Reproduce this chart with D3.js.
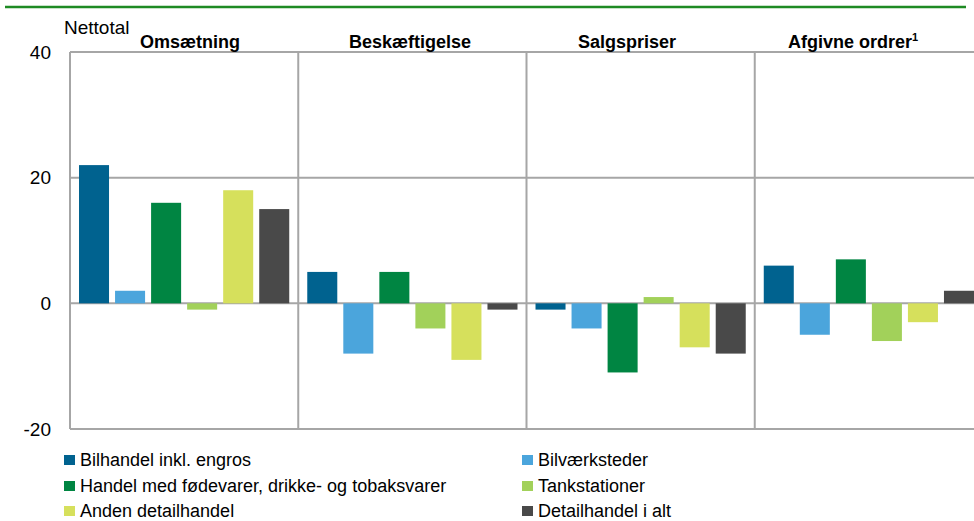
<!DOCTYPE html>
<html>
<head>
<meta charset="utf-8">
<script src="https://cdn.jsdelivr.net/npm/d3@7"></script>
<style>
  body { margin: 0; background: #fff; }
  svg text { font-family: "Liberation Sans Narrow", "Liberation Sans", Arial, sans-serif; fill: #000; }
</style>
</head>
<body>
<script>
// data (nettotal)
const panels = ["Omsætning", "Beskæftigelse", "Salgspriser", "Afgivne ordrer"]
const series = ["Bilhandel inkl. engros", "Bilværksteder",
    "Handel med fødevarer, drikke- og tobaksvarer", "Tankstationer",
    "Anden detailhandel", "Detailhandel i alt"]
const colors = ["#00628f", "#4ba5dc", "#008542", "#a2d15a", "#d6e05c", "#494949"]
const omsaetning = [22, 2, 16, -1, 18, 15]
const beskaeftigelse = [5, -8, 5, -4, -9, -1]
const salgspriser = [-1, -4, -11, 1, -7, -8]
const ordrer = [6, -5, 7, -6, -3, 2]
const yTicks = [40, 20, 0, -20]
const titleX = [190, 410, 627, 853]

const values = [omsaetning, beskaeftigelse, salgspriser, ordrer]

width = 974
height = 521
const plotL = 70, plotR = 983, plotT = 52, plotB = 429

svg = d3.select("body")
    .append("svg")
    .attr("width", width)
    .attr("height", height)

// green rule on top
svg.append("line")
    .attr("x1", 5).attr("x2", 966)
    .attr("y1", 7).attr("y2", 7)
    .attr("stroke", "#1e8a23")
    .attr("stroke-width", 2.5)

let y = d3.scaleLinear().domain([-20, 40]).range([plotB, plotT])
let xPanel = d3.scaleBand().domain(panels).range([plotL, plotR])
let xBar = d3.scaleBand().domain(d3.range(series.length))
    .range([0, xPanel.bandwidth()])
    .paddingInner(0.167)
    .paddingOuter(0.25)

// horizontal grid (incl. top and bottom frame)
svg.selectAll("line.grid")
    .data(yTicks)
    .enter()
    .append("line")
    .attr("class", "grid")
    .attr("x1", plotL).attr("x2", plotR)
    .attr("y1", d => y(d)).attr("y2", d => y(d))
    .attr("stroke", "#a6a6a6")
    .attr("stroke-width", 2)

// panel separators
svg.selectAll("line.sep")
    .data(panels)
    .enter()
    .append("line")
    .attr("class", "sep")
    .attr("x1", d => xPanel(d)).attr("x2", d => xPanel(d))
    .attr("y1", plotT).attr("y2", plotB)
    .attr("stroke", "#a6a6a6")
    .attr("stroke-width", 2)

// y tick labels
svg.selectAll("text.tick")
    .data(yTicks)
    .enter()
    .append("text")
    .attr("class", "tick")
    .attr("x", 51)
    .attr("y", d => y(d))
    .attr("dy", "0.35em")
    .attr("text-anchor", "end")
    .style("font-size", "19px")
    .text(d => d)

svg.append("text")
    .attr("x", 64).attr("y", 34)
    .style("font-size", "19px")
    .text("Nettotal")

// panel titles
panels.forEach(function(p, i) {
    let t = svg.append("text")
        .attr("x", titleX[i]).attr("y", 48)
        .attr("text-anchor", "middle")
        .style("font-size", "18px")
        .style("font-weight", "bold")
        .text(p)
    if (i == 3) {
        t.append("tspan")
            .attr("dy", -7)
            .style("font-size", "11px")
            .text("1")
    }
})

// bars
panels.forEach(function(p, i) {
    let g = svg.append("g")
        .attr("transform", "translate(" + xPanel(p) + ",0)")
    g.selectAll("rect")
        .data(values[i])
        .enter()
        .append("rect")
        .attr("x", (d, j) => xBar(j))
        .attr("width", xBar.bandwidth())
        .attr("y", d => y(Math.max(0, d)))
        .attr("height", d => Math.abs(y(d) - y(0)))
        .attr("fill", (d, j) => colors[j])
})

// legend, two columns
const legX = [64, 522]
const legY = [460, 486, 511]
let leg = svg.selectAll("g.leg")
    .data(series)
    .enter()
    .append("g")
    .attr("class", "leg")
    .attr("transform", (d, i) => "translate(" + legX[i % 2] + "," + legY[Math.floor(i / 2)] + ")")
leg.append("rect")
    .attr("x", 0).attr("y", -5)
    .attr("width", 11).attr("height", 10)
    .attr("fill", (d, i) => colors[i])
leg.append("text")
    .attr("x", 16).attr("y", 0)
    .attr("dy", "0.35em")
    .style("font-size", "18px")
    .text(d => d)
</script>
</body>
</html>
